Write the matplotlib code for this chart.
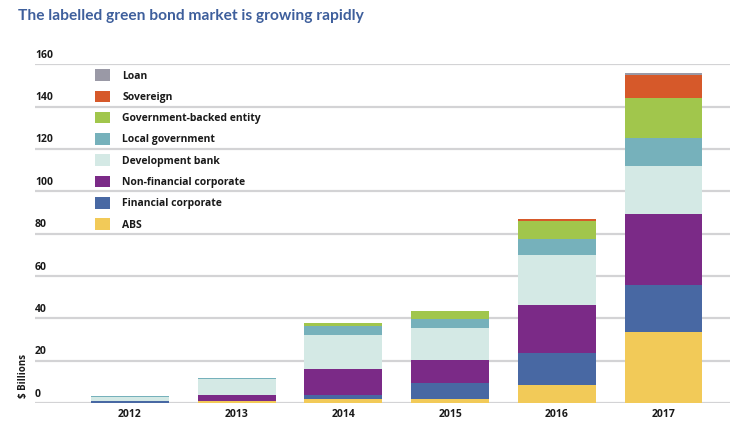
import matplotlib.pyplot as plt
from matplotlib.patches import Patch
from matplotlib.transforms import blended_transform_factory

# Data ($ billions)
years = ["2012", "2013", "2014", "2015", "2016", "2017"]
abs_ = [0.0, 0.8, 2.0, 1.9, 8.7, 33.5]
financial = [0.8, 0.3, 1.6, 7.6, 15.0, 22.3]
non_financial = [0.0, 2.8, 12.5, 10.6, 22.4, 33.5]
dev_bank = [2.0, 7.3, 16.2, 15.4, 23.9, 22.6]
local_gov = [0.5, 0.4, 4.2, 4.4, 7.4, 13.3]
gov_backed = [0.0, 0.4, 1.1, 3.5, 8.7, 18.6]
sovereign = [0.0, 0.0, 0.0, 0.0, 0.8, 11.0]
loan = [0.0, 0.0, 0.0, 0.0, 0.0, 0.8]

series = [
    ("ABS", abs_, "#f2ca58"),
    ("Financial corporate", financial, "#4868a3"),
    ("Non-financial corporate", non_financial, "#7b2a87"),
    ("Development bank", dev_bank, "#d4e9e5"),
    ("Local government", local_gov, "#76b1bb"),
    ("Government-backed entity", gov_backed, "#a1c64c"),
    ("Sovereign", sovereign, "#d6592a"),
    ("Loan", loan, "#9a99a6"),
]

plt.rcParams['font.family'] = ['Open Sans', 'DejaVu Sans']

fig = plt.figure(figsize=(7.43, 4.22), dpi=100)
ax = fig.add_axes([0.047, 0.045, 0.935, 0.803])

x = list(range(len(years)))
bottom = [0.0] * len(years)
for name, vals, col in series:
    ax.bar(x, vals, 0.73, bottom=bottom, color=col, zorder=3)
    bottom = [b + v for b, v in zip(bottom, vals)]

ax.set_xlim(-0.89, 5.62)
ax.set_ylim(0, 160)

yticks = [0, 20, 40, 60, 80, 100, 120, 140, 160]
for t in yticks:
    ax.axhline(t, color="#d3d3d5", lw=1.6, zorder=1)
ax.set_yticks([])
trans = blended_transform_factory(ax.transAxes, ax.transData)
for t in yticks:
    ax.text(0.0, t + 1.6, str(t), transform=trans, ha="left", va="bottom",
            fontsize=7.5, fontweight="bold", color="#1a1a1a", clip_on=False)

ax.set_xticks(x)
ax.set_xticklabels(years, fontsize=7.5, fontweight="bold", color="#1a1a1a")
ax.tick_params(axis="x", length=0, pad=4.5)
for s in ax.spines.values():
    s.set_visible(False)

fig.text(0.031, 0.11, "$ Billions", rotation=90, ha="center", va="center",
         fontsize=7, fontweight="bold", color="#1a1a1a")

fig.text(0.024, 0.962, "The labelled green bond market is growing rapidly",
         fontsize=11.2, fontweight="bold", color="#3e5f9c", ha="left", va="center",
         family=["Lato", "DejaVu Sans"])

handles = [Patch(facecolor=col, edgecolor="none") for name, vals, col in series[::-1]]
labels = [name for name, vals, col in series[::-1]]
leg = ax.legend(handles, labels, loc="upper left", bbox_to_anchor=(0.086, 0.985),
                frameon=False, fontsize=7.5, handlelength=1.45, handleheight=1.35,
                labelspacing=0.86, handletextpad=1.2, borderaxespad=0, borderpad=0)
for txt in leg.get_texts():
    txt.set_fontweight("bold")
    txt.set_color("#1a1a1a")

fig.savefig("out.png", dpi=100)
